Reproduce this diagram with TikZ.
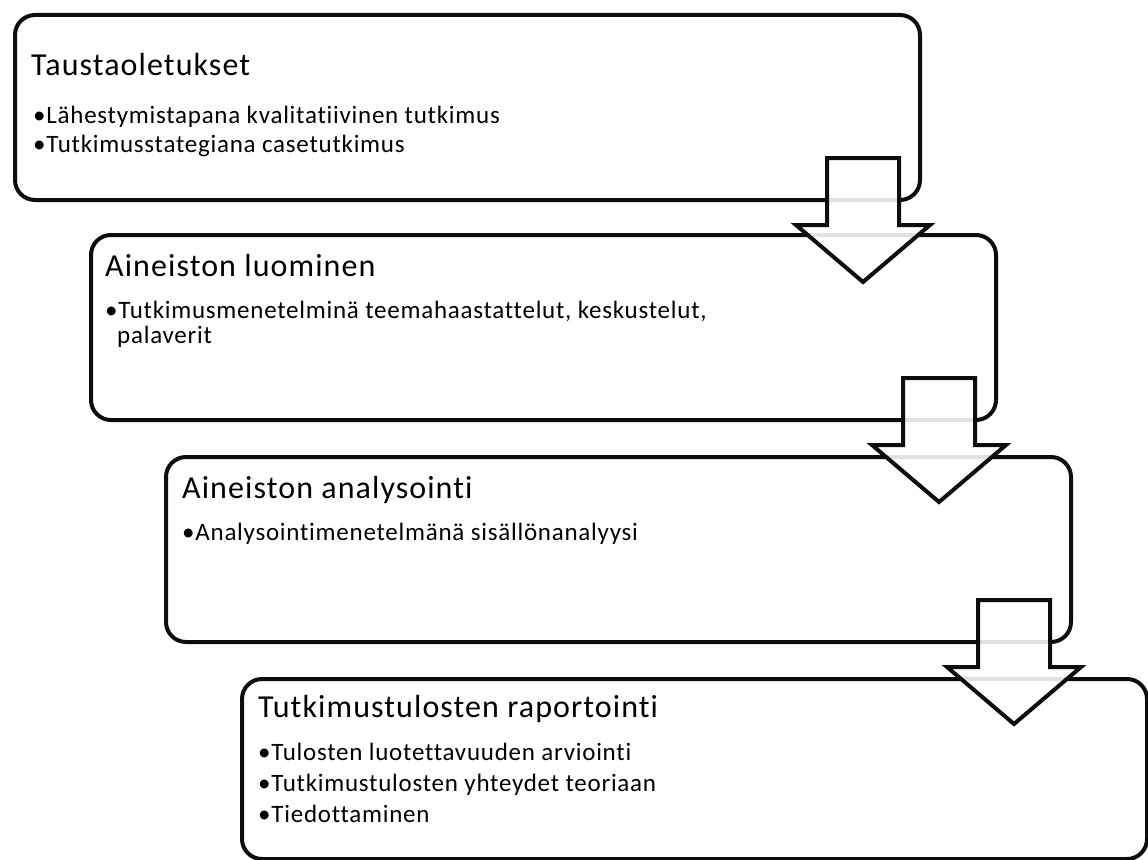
\documentclass[tikz,border=0pt]{standalone}
\usepackage{fontspec}
\setmainfont{Carlito}[Ligatures=NoCommon]
\usetikzlibrary{positioning, calc}

\begin{document}
\begin{tikzpicture}[x=1pt, y=-1pt]
        \tikzstyle{stage} = [rectangle, draw=black!95, line width=4pt, rounded corners=20pt, fill=white, anchor=north west, minimum width=905pt, minimum height=185pt]
        \tikzstyle{head} = [anchor=base west, inner sep=0pt, font=\fontsize{32}{38}\selectfont\addfontfeatures{LetterSpace=3.4}]
        \tikzstyle{item} = [anchor=base west, inner sep=0pt, font=\fontsize{25}{29}\selectfont\addfontfeatures{LetterSpace=3}]
        \tikzset{downarrow/.pic={\draw[line width=4pt, draw=black!95, fill=white, fill opacity=0.88, line join=miter] (-36,0) -- (36,0) -- (36,67) -- (67,67) -- (0,124) -- (-67,67) -- (-36,67) -- cycle;}}

        \useasboundingbox (0,0) rectangle (1148,859);

        % the four phases
        \node [stage] (taust) at (13,13) {};
        \node [stage] (luom) at (89,233) {};
        \node [stage] (anal) at (164,455) {};
        \node [stage, minimum height=180pt] (rap) at (240,677) {};

        \node [head] (taustH) at ($(taust.north west)+(18,62)$) {Taustaoletukset};
        \node [item] (taustA) at ($(taust.north west)+(20,110)$) {•Lähestymistapana kvalitatiivinen tutkimus};
        \node [item] (taustB) at ($(taust.north west)+(20,139)$) {•Tutkimusstategiana casetutkimus};

        \node [head] (luomH) at ($(luom.north west)+(16,43)$) {Aineiston luominen};
        \node [item] (luomA) at ($(luom.north west)+(16,85)$) {•Tutkimusmenetelminä teemahaastattelut, keskustelut,};
        \node [item] (luomB) at ($(luom.north west)+(28,110)$) {palaverit};

        \node [head] (analH) at ($(anal.north west)+(18,43)$) {Aineiston analysointi};
        \node [item] (analA) at ($(anal.north west)+(18,85)$) {•Analysointimenetelmänä sisällönanalyysi};

        \node [head] (rapH) at ($(rap.north west)+(18,40)$) {Tutkimustulosten raportointi};
        \node [item] (rapA) at ($(rap.north west)+(18,83)$) {•Tulosten luotettavuuden arviointi};
        \node [item] (rapB) at ($(rap.north west)+(18,114)$) {•Tutkimustulosten yhteydet teoriaan};
        \node [item] (rapC) at ($(rap.north west)+(18,145)$) {•Tiedottaminen};

        % block arrows between the phases
        \pic at ($(taust.south east)+(-59,-44)$) {downarrow};
        \pic at ($(luom.south east)+(-59,-44)$) {downarrow};
        \pic at ($(anal.south east)+(-59,-44)$) {downarrow};
    \end{tikzpicture}
\end{document}
